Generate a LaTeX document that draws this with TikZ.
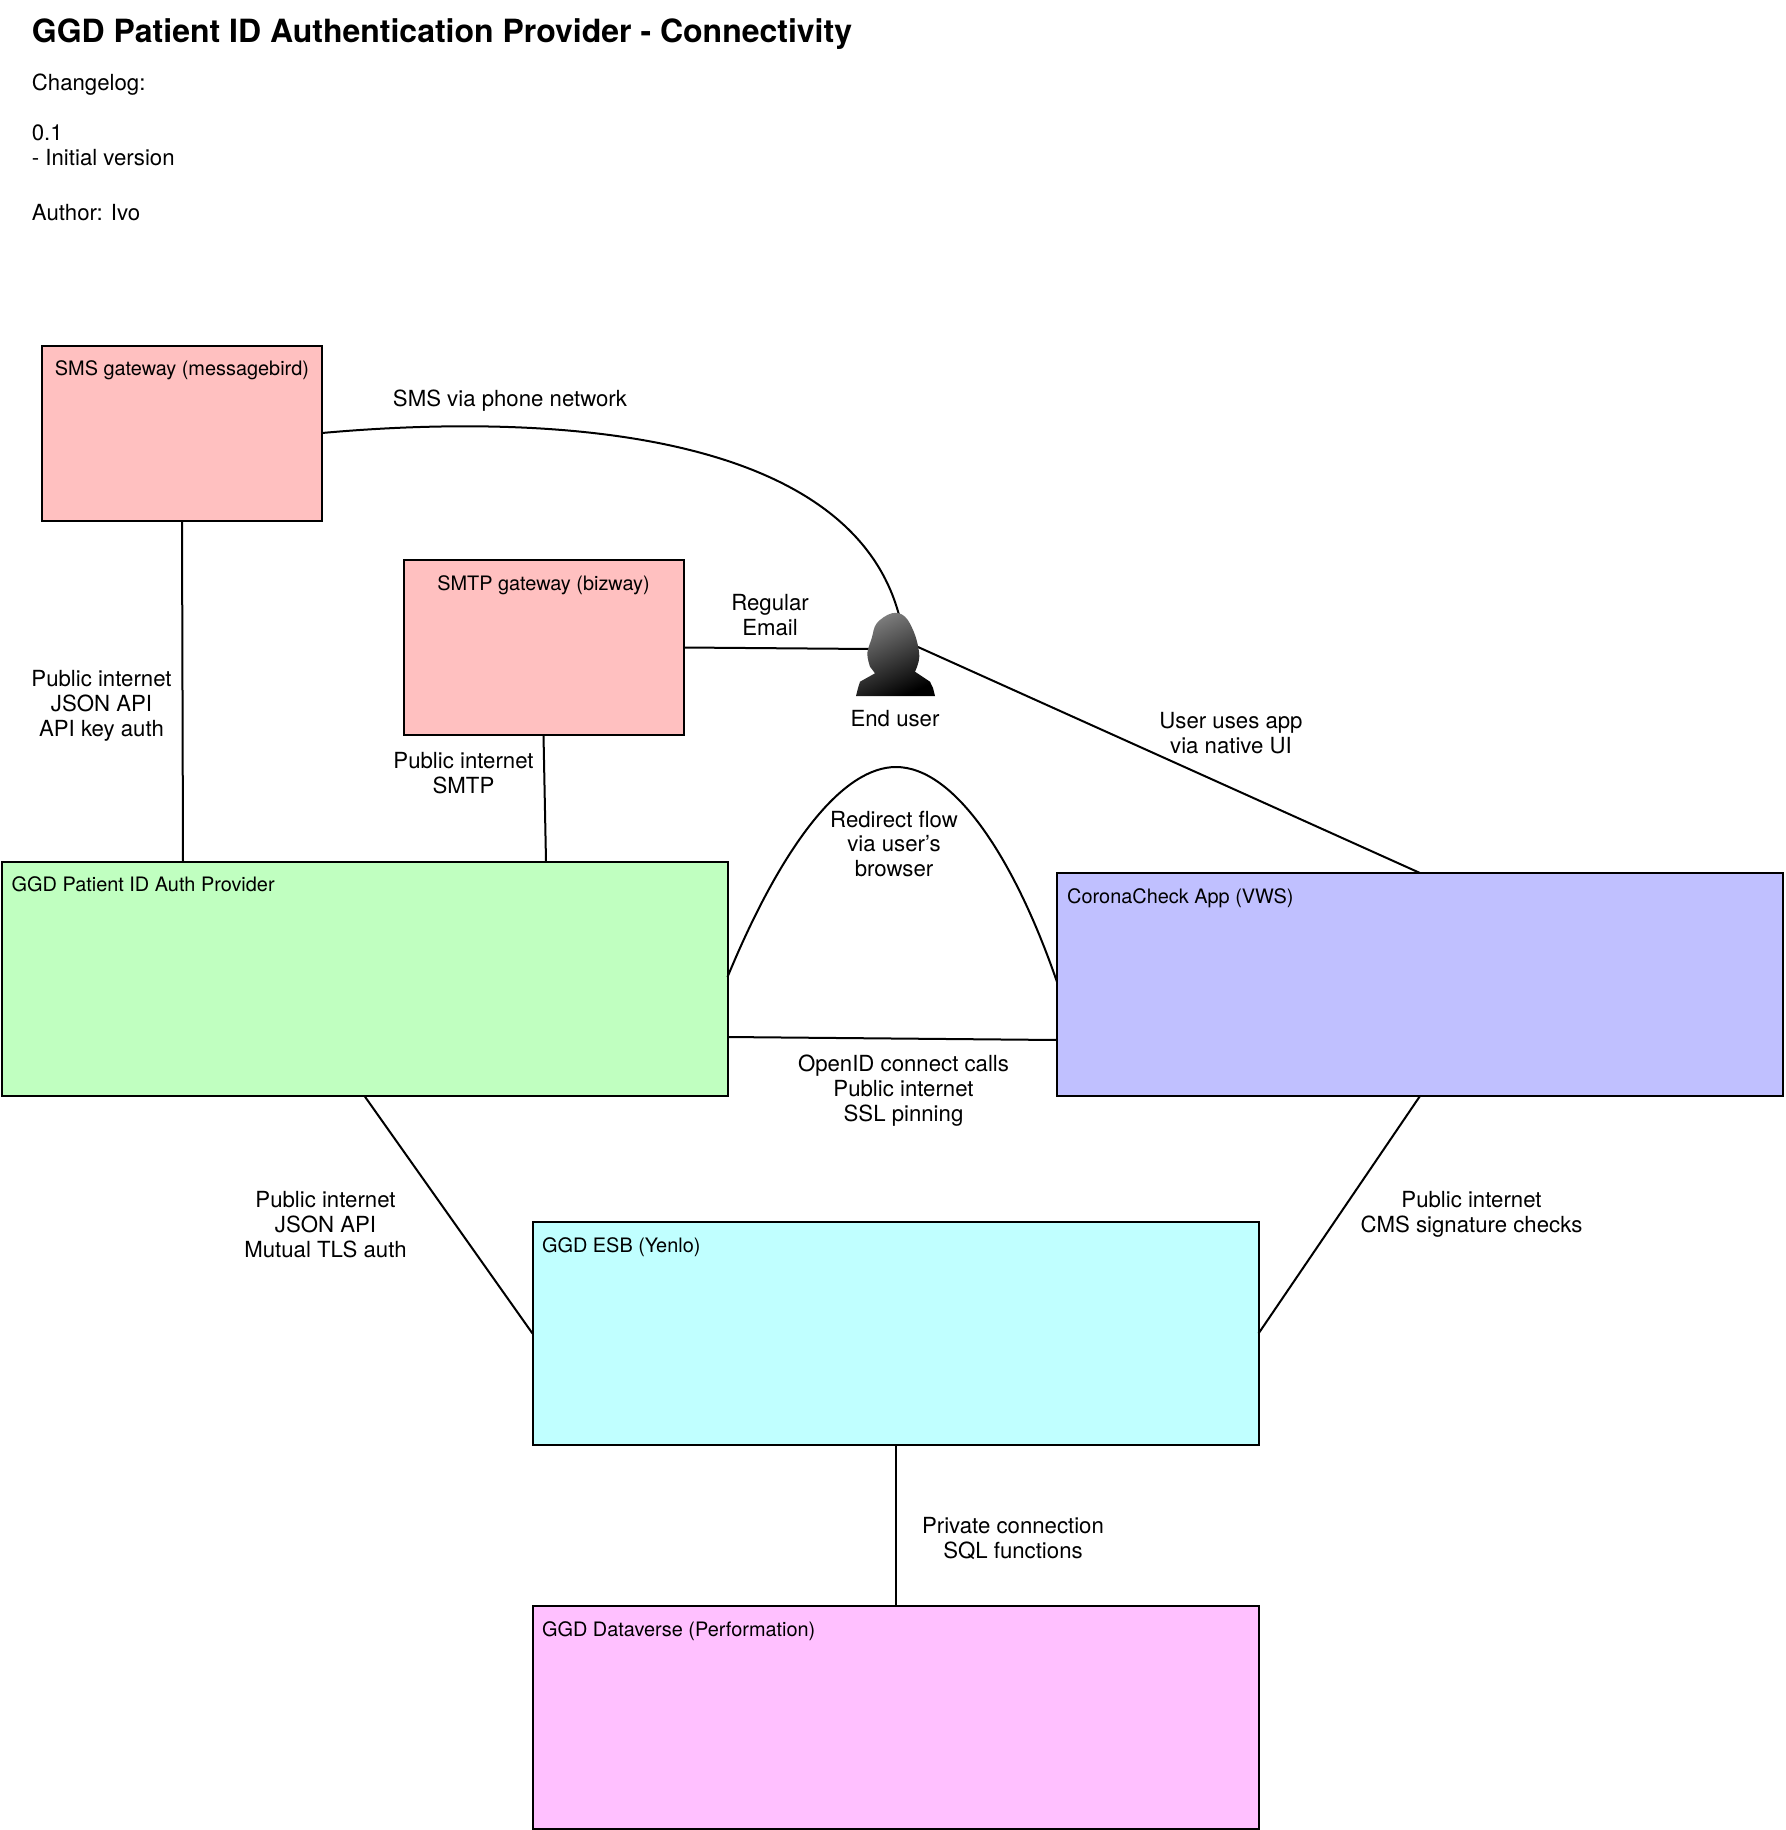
\documentclass[tikz,border=0pt]{standalone}
\usepackage{fontspec}
\setmainfont{TeX Gyre Heros}
\definecolor{cpink}{HTML}{FFC0C0}
\definecolor{cgreen}{HTML}{C0FFC0}
\definecolor{cblue}{HTML}{C0C0FF}
\definecolor{ccyan}{HTML}{C0FFFF}
\definecolor{cmag}{HTML}{FFC0FF}
\tikzset{
  box/.style={draw=black,line width=1pt,inner sep=0pt,outer sep=0pt,anchor=north west},
  small/.style={box,minimum width=140pt,minimum height=87.5pt},
  large/.style={box,minimum width=363pt,minimum height=111.5pt},
  boxlab/.style={inner sep=0pt,font=\fontsize{9.95}{12}\selectfont},
  lab/.style={inner sep=0pt,align=center,font=\fontsize{11.1}{12.45}\selectfont},
  conn/.style={draw=black,line width=1pt}
}
\begin{document}
\begin{tikzpicture}[x=0.5pt,y=-0.5pt]
\useasboundingbox (0,0) rectangle (1786,1830);
\node[inner sep=0pt,anchor=west,font=\bfseries\fontsize{16}{19}\selectfont] (title) at (31.5,34) {GGD Patient ID Authentication Provider - Connectivity};
\node[inner sep=0pt,anchor=north west,align=left,font=\fontsize{11.1}{12.45}\selectfont] (log) at (31.5,74) {Changelog:\\ \\0.1\\- Initial version\\ \\[2.5pt]Author: Ivo};

\node[small,fill=cpink] (sms) at (42,345.5) {};
\node[small,fill=cpink] (smtp) at (403.5,560) {};
\node[large,fill=cgreen,minimum height=117.25pt] (auth) at (1.5,861.5) {};
\node[large,fill=cblue] (corona) at (1057,873) {};
\node[large,fill=ccyan] (esb) at (532.5,1222) {};
\node[large,fill=cmag] (data) at (532.5,1606) {};

\node[boxlab,anchor=north] (smsl) at ([yshift=-7.5pt]sms.north) {SMS gateway (messagebird)};
\node[boxlab,anchor=north] (smtpl) at ([yshift=-7.5pt]smtp.north) {SMTP gateway (bizway)};
\node[boxlab,anchor=north west] (authl) at ([xshift=4.9pt,yshift=-7.5pt]auth.north west) {GGD Patient ID Auth Provider};
\node[boxlab,anchor=north west] (coronal) at ([xshift=4.9pt,yshift=-7.5pt]corona.north west) {CoronaCheck App (VWS)};
\node[boxlab,anchor=north west] (esbl) at ([xshift=4.6pt,yshift=-7.5pt]esb.north west) {GGD ESB (Y\kern-1pt enlo)};
\node[boxlab,anchor=north west] (datal) at ([xshift=4.6pt,yshift=-7.5pt]data.north west) {GGD Dataverse (Performation)};

\coordinate (pleft) at (870,649);
\coordinate (ptop) at (899,615);
\coordinate (pright) at (918,647);
\coordinate (authsms) at (183,861.5);
\coordinate (authsmtp) at (546,861.5);
\coordinate (authr1) at (727.5,977);
\coordinate (authr2) at (727.5,1037);
\coordinate (corl1) at (1057,982);
\coordinate (corl2) at (1057,1040);
\coordinate (smsr) at (322,433);
\coordinate (smtpr) at (684,647.5);
\coordinate (arctop) at (896,767);

\path[conn] (sms.south) -- (authsms);
\path[conn] (smtp.south) -- (authsmtp);
\path[conn] (smtpr) -- (pleft);
\path[conn] (smsr) .. controls (555,412) and (850,432) .. (ptop);
\path[conn] (pright) -- (corona.north);
\path[conn] (authr1) .. controls (785,838) and (845,767) .. (arctop) .. controls (955,767) and (1015,860) .. (corl1);
\path[conn] (authr2) -- (corl2);
\path[conn] (auth.south) -- (esb.west);
\path[conn] (corona.south) -- (esb.east);
\path[conn] (esb.south) -- (data.north);

\shade[top color=black!50,bottom color=black,shading angle=25]
  (856,696) -- (858,688) -- (860,681.7) -- (875,673.3)
  -- plot[smooth,tension=0.6] coordinates {(870,666.7) (867.3,653.3) (871.7,638.3) (876.7,623.3) (891.7,613.3) (905,616.7) (915,635) (919.3,656.7) (915,671.7)}
  -- (930,681.7) -- (933,688) -- (935,696) -- cycle;
\node[lab] (person) at (895,719) {End user};

\node[lab] (l1) at (510,400.3) {SMS via phone network};
\node[lab] (l2) at (770,615) {Regular\\Email};
\node[lab] (l3) at (1231,733) {User uses app\\via native UI};
\node[lab] (l4) at (101.5,705.5) {Public internet\\JSON API\\API key auth};
\node[lab] (l5) at (463.5,773) {Public internet\\SMTP};
\node[lab] (l6) at (894,844) {Redirect flow\\via user’s\\browser};
\node[lab] (l7) at (903.5,1090.5) {OpenID connect calls\\Public internet\\SSL pinning};
\node[lab] (l8) at (325.5,1224.5) {Public internet\\JSON API\\Mutual TLS auth};
\node[lab] (l9) at (1471.5,1214) {Public internet\\CMS signature checks};
\node[lab] (l10) at (1013,1538.5) {Private connection\\SQL functions};
\end{tikzpicture}
\end{document}
